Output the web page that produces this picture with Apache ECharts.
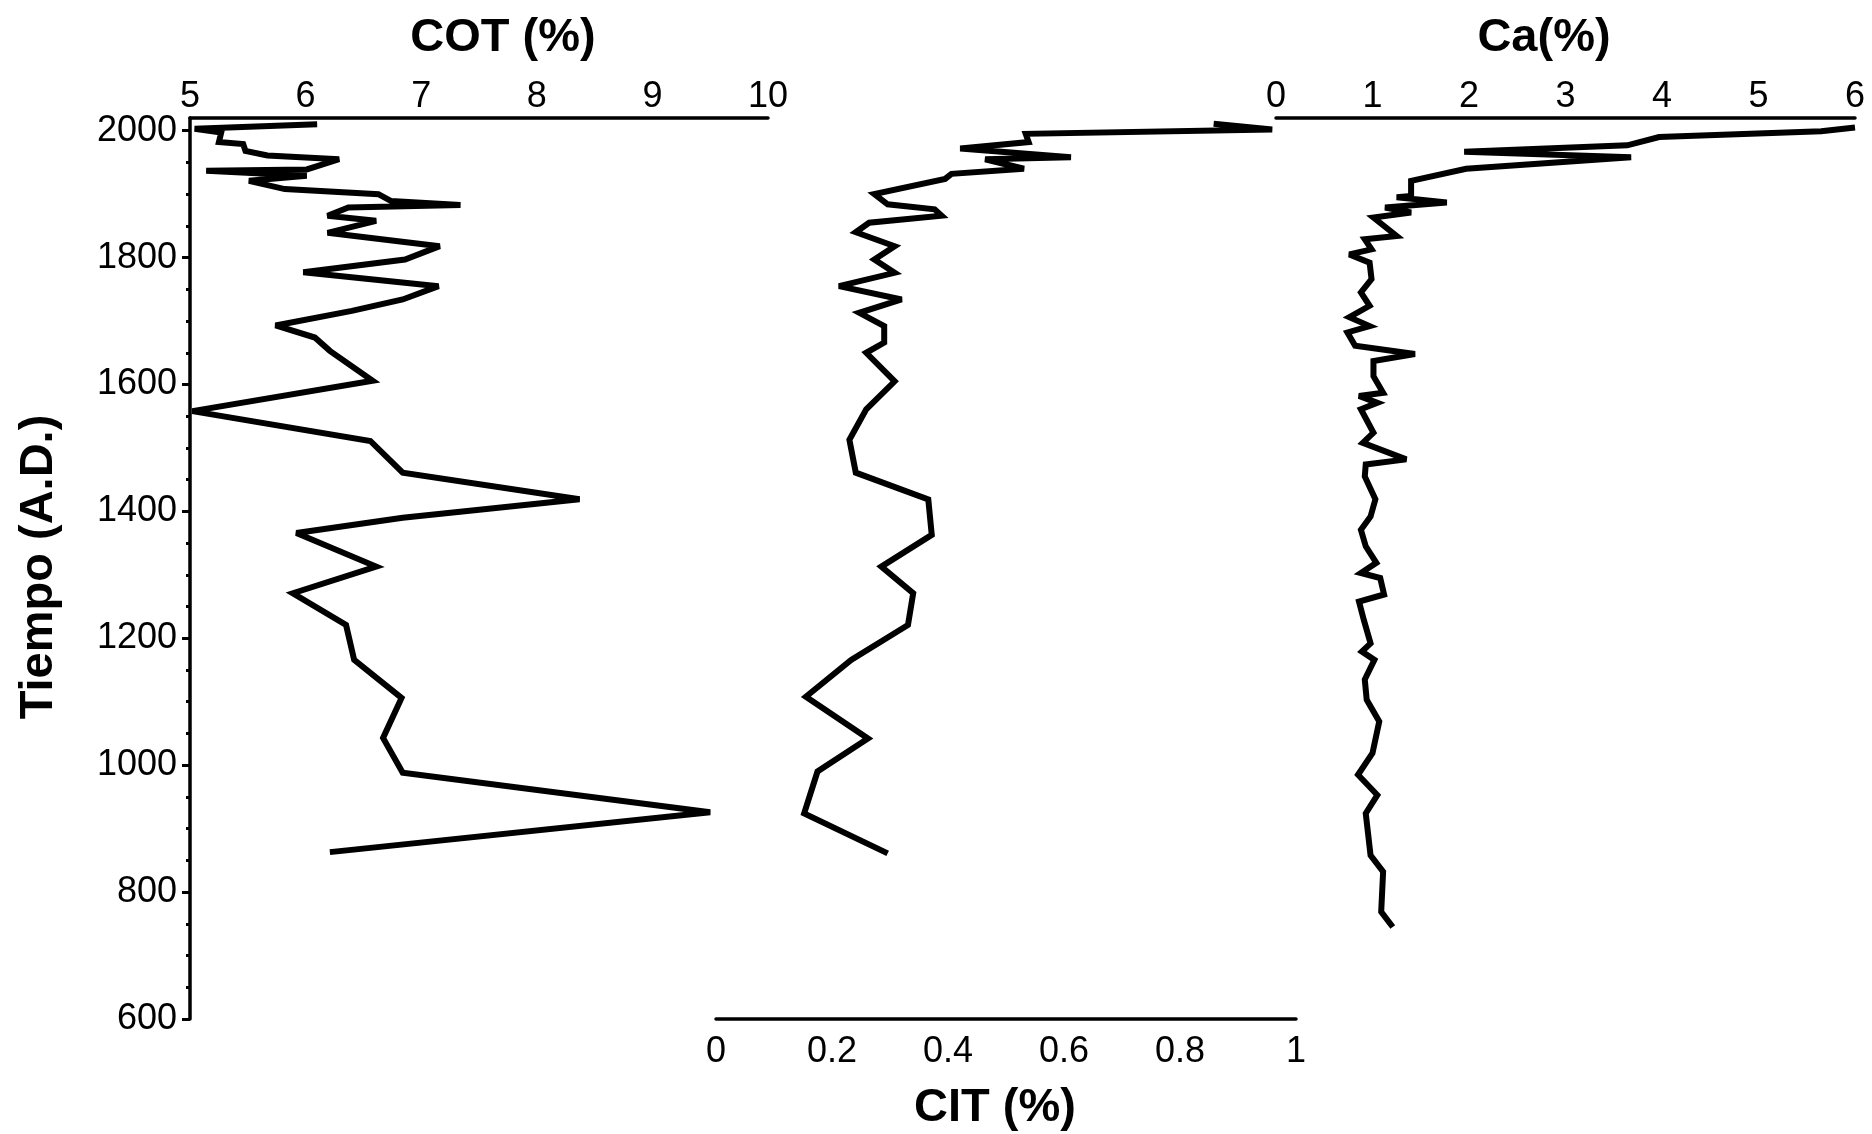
<!DOCTYPE html>
<html>
<head>
<meta charset="utf-8">
<title>COT CIT Ca</title>
<script src="https://cdn.jsdelivr.net/npm/echarts@6/dist/echarts.min.js"></script>
<style>
  html, body { margin: 0; padding: 0; background: #fff; }
  #chart { width: 1872px; height: 1134px; }
</style>
</head>
<body>
<div id="chart"></div>
<script>
// tiempo (A.D.) y valores
var cotYears = [2010, 2003, 1997, 1982, 1979, 1968, 1961, 1955, 1939, 1937, 1929, 1921, 1908, 1900, 1889,
  1883, 1879, 1866, 1858, 1839, 1818, 1797, 1777, 1755, 1734, 1716, 1693, 1674, 1653, 1606,
  1558, 1511, 1461, 1419, 1390, 1366, 1313, 1271, 1221, 1166, 1106, 1043, 988, 926, 863];
var cotValues = [6.10, 5.04, 5.27, 5.25, 5.46, 5.48, 5.67, 6.29, 6.01, 5.14, 6.01, 5.51, 5.82, 6.63, 6.74,
  7.34, 6.37, 6.19, 6.61, 6.19, 7.16, 6.86, 5.98, 7.15, 6.84, 6.40, 5.74, 6.08, 6.21, 6.58,
  5.02, 6.56, 6.84, 8.37, 6.84, 5.92, 6.61, 5.89, 6.35, 6.42, 6.83, 6.67, 6.84, 9.50, 6.21];

var citYears = [2011, 2002, 1995, 1982, 1972, 1958, 1955, 1940, 1932, 1924, 1900, 1884, 1876, 1866, 1855,
  1840, 1818, 1797, 1776, 1755, 1734, 1713, 1692, 1666, 1650, 1605, 1561, 1513, 1461, 1419,
  1363, 1313, 1271, 1221, 1166, 1108, 1042, 990, 924, 861];
var citValues = [0.858, 0.959, 0.534, 0.539, 0.421, 0.612, 0.464, 0.531, 0.406, 0.395, 0.273, 0.296, 0.377, 0.389, 0.264,
  0.241, 0.308, 0.273, 0.308, 0.212, 0.320, 0.247, 0.290, 0.290, 0.259, 0.308, 0.259, 0.230, 0.241, 0.366,
  0.372, 0.285, 0.340, 0.331, 0.233, 0.155, 0.262, 0.175, 0.152, 0.296];

var caYears = [2005, 1999, 1990, 1977, 1967, 1958, 1940, 1921, 1897, 1895, 1887, 1879, 1871, 1863, 1834,
  1829, 1813, 1805, 1792, 1766, 1745, 1724, 1706, 1692, 1682, 1661, 1648, 1637, 1613, 1587,
  1582, 1571, 1561, 1524, 1508, 1482, 1474, 1455, 1419, 1392, 1371, 1345, 1319, 1303, 1295,
  1269, 1258, 1229, 1192, 1179, 1166, 1135, 1103, 1069, 1019, 985, 953, 924, 858, 832, 769, 745];
var caValues = [6.00, 5.65, 3.97, 3.64, 1.95, 3.68, 1.97, 1.40, 1.40, 1.25, 1.77, 1.13, 1.40, 1.01, 1.25,
  0.92, 0.99, 0.76, 0.97, 0.99, 0.88, 0.97, 0.76, 0.97, 0.74, 0.82, 1.44, 1.01, 1.01, 1.11,
  0.86, 1.05, 0.88, 1.01, 0.90, 1.35, 0.93, 0.92, 1.03, 0.98, 0.88, 0.93, 1.04, 0.88, 1.08,
  1.12, 0.86, 0.91, 0.98, 0.89, 1.02, 0.92, 0.94, 1.07, 1.00, 0.85, 1.05, 0.93, 0.98, 1.11, 1.09, 1.21];

// marcas del eje de tiempo
var yearTicks = [600, 800, 1000, 1200, 1400, 1600, 1800, 2000];
var yearMinorTicks = [650, 700, 750, 850, 900, 950, 1050, 1100, 1150, 1250, 1300, 1350, 1450, 1500, 1550,
  1650, 1700, 1750, 1850, 1900, 1950];
var cotTicks = [5, 6, 7, 8, 9, 10];
var citTicks = [0, 0.2, 0.4, 0.6, 0.8, 1];
var caTicks = [0, 1, 2, 3, 4, 5, 6];

var FONT = "'Liberation Sans', Arial, Helvetica, sans-serif";
var yearMin = 600, yearMax = 2020;

function pairs(xs, ys) {
  return ys.map(function (y, i) { return [xs[i], y]; });
}

function plain(v) {
  return String(Math.round(v * 10) / 10);
}

function topAxis(grid, ticks) {
  return {
    gridIndex: grid, type: 'value', position: 'top',
    min: ticks[0], max: ticks[ticks.length - 1],
    interval: ticks[1] - ticks[0],
    axisLine: { show: true, onZero: false, lineStyle: { color: '#000', width: 3.5 } },
    axisTick: { show: false },
    splitLine: { show: false },
    axisLabel: { margin: 3, color: '#000', fontSize: 36, fontFamily: FONT, formatter: plain }
  };
}

function hiddenY(grid) {
  return { gridIndex: grid, type: 'value', min: yearMin, max: yearMax, show: false };
}

var lineStyle = { color: '#000', width: 6, join: 'miter', miterLimit: 3 };

var chart = echarts.init(document.getElementById('chart'));

var option = {
  backgroundColor: '#fff',
  animation: false,
  grid: [
    { left: 190, top: 118, width: 578, height: 901, outerBoundsMode: 'none' },
    { left: 716, top: 118, width: 580, height: 901, outerBoundsMode: 'none' },
    { left: 1276, top: 118, width: 579, height: 901, outerBoundsMode: 'none' }
  ],
  xAxis: [
    topAxis(0, cotTicks),
    {
      gridIndex: 1, type: 'value', position: 'bottom',
      min: citTicks[0], max: citTicks[citTicks.length - 1], interval: 0.2,
      axisLine: { show: true, onZero: false, lineStyle: { color: '#000', width: 3.5 } },
      axisTick: { show: false },
      splitLine: { show: false },
      axisLabel: { margin: 15, color: '#000', fontSize: 36, fontFamily: FONT, formatter: plain }
    },
    topAxis(2, caTicks)
  ],
  yAxis: [
    {
      gridIndex: 0, type: 'value', position: 'left', min: yearMin, max: yearMax,
      axisLine: { show: true, onZero: false, lineStyle: { color: '#000', width: 3.5 } },
      axisTick: { show: true, length: 8, customValues: yearTicks, lineStyle: { color: '#000', width: 3 } },
      axisLabel: { margin: 13, customValues: yearTicks, color: '#000', fontSize: 36, fontFamily: FONT, formatter: plain },
      splitLine: { show: false }
    },
    {
      gridIndex: 0, type: 'value', position: 'left', min: yearMin, max: yearMax,
      axisLine: { show: false },
      axisTick: { show: true, length: 4, customValues: yearMinorTicks, lineStyle: { color: '#000', width: 3 } },
      axisLabel: { show: false },
      splitLine: { show: false }
    },
    hiddenY(1),
    hiddenY(2)
  ],
  graphic: [
    { type: 'text', x: 503, y: 38, style: { text: 'COT (%)', font: 'bold 47px ' + FONT, fill: '#000', textAlign: 'center', textVerticalAlign: 'middle' } },
    { type: 'text', x: 995, y: 1108, style: { text: 'CIT (%)', font: 'bold 47px ' + FONT, fill: '#000', textAlign: 'center', textVerticalAlign: 'middle' } },
    { type: 'text', x: 1544, y: 38, style: { text: 'Ca(%)', font: 'bold 47px ' + FONT, fill: '#000', textAlign: 'center', textVerticalAlign: 'middle' } },
    { type: 'text', x: 39, y: 567, rotation: Math.PI / 2, style: { text: 'Tiempo (A.D.)', font: 'bold 47px ' + FONT, fill: '#000', textAlign: 'center', textVerticalAlign: 'middle' } }
  ],
  series: [
    { name: 'COT', type: 'line', xAxisIndex: 0, yAxisIndex: 0, data: pairs(cotValues, cotYears),
      symbol: 'none', clip: false, lineStyle: lineStyle },
    { name: 'CIT', type: 'line', xAxisIndex: 1, yAxisIndex: 2, data: pairs(citValues, citYears),
      symbol: 'none', clip: false, lineStyle: lineStyle },
    { name: 'Ca', type: 'line', xAxisIndex: 2, yAxisIndex: 3, data: pairs(caValues, caYears),
      symbol: 'none', clip: false, lineStyle: lineStyle }
  ]
};

chart.setOption(option);
</script>
</body>
</html>
